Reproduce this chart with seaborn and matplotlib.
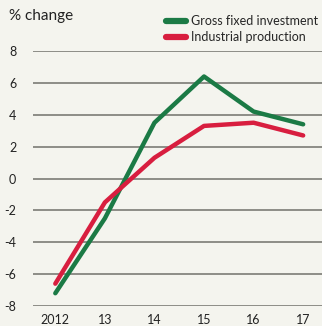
import matplotlib
matplotlib.use("Agg")
import matplotlib.pyplot as plt
import seaborn as sns
import pandas as pd
from matplotlib.lines import Line2D

years = ["2012", "13", "14", "15", "16", "17"]
gross_fixed_investment = [-7.2, -2.5, 3.5, 6.4, 4.2, 3.4]
industrial_production = [-6.6, -1.5, 1.3, 3.3, 3.5, 2.7]
y_ticks = [-8, -6, -4, -2, 0, 2, 4, 6, 8]

series_names = ["Gross fixed investment", "Industrial production"]
series_colors = ["#1b7a45", "#d81e3f"]

df = pd.DataFrame({
    "pos": list(range(len(years))) * 2,
    "value": gross_fixed_investment + industrial_production,
    "series": [series_names[0]] * len(years) + [series_names[1]] * len(years),
})

sns.set_theme(style="white")
plt.rcParams["font.family"] = ["Lato", "DejaVu Sans"]

bg = "#f4f4ee"
fig = plt.figure(figsize=(3.22, 3.26), dpi=100, facecolor=bg)
ax = fig.add_axes([33 / 322, 20 / 326, 289 / 322, 255 / 326], facecolor=bg)

for y in y_ticks:
    ax.axhline(y, color="#85857f", lw=1.3, zorder=1)

sns.lineplot(data=df, x="pos", y="value", hue="series", palette=series_colors,
             lw=3.2, ax=ax, legend=False, zorder=3, clip_on=False)

ax.set_xlim(-0.45, 5.38)
ax.set_ylim(-8, 8)
ax.set_yticks(y_ticks)
ax.set_yticklabels([str(v) for v in y_ticks], fontsize=9, color="#222222")
ax.tick_params(axis="y", length=0, pad=12)

ax.set_xticks([-0.45, 0.5, 1.5, 2.5, 3.5, 4.5])
ax.set_xticklabels([])
ax.set_xticks(range(len(years)), minor=True)
ax.set_xticklabels(years, minor=True, fontsize=9, color="#222222")
ax.tick_params(axis="x", which="major", length=5, width=1, color="#85857f", direction="out")
ax.tick_params(axis="x", which="minor", length=0, pad=6)

for s in ax.spines.values():
    s.set_visible(False)
ax.set_xlabel("")
ax.set_ylabel("")

fig.text(9 / 322, 1 - 16 / 326, "% change", fontsize=11, color="#222222", va="center", ha="left")

handles = [Line2D([0], [0], color=c, lw=4.5, solid_capstyle="round") for c in series_colors]
fig.legend(handles, series_names, loc="upper left", bbox_to_anchor=(166 / 322, 1 - 15 / 326),
           frameon=False, fontsize=9, handlelength=1.6, handletextpad=0.4,
           labelspacing=0.35, borderaxespad=0, borderpad=0)

fig.savefig("out.png", dpi=100, facecolor=bg)
